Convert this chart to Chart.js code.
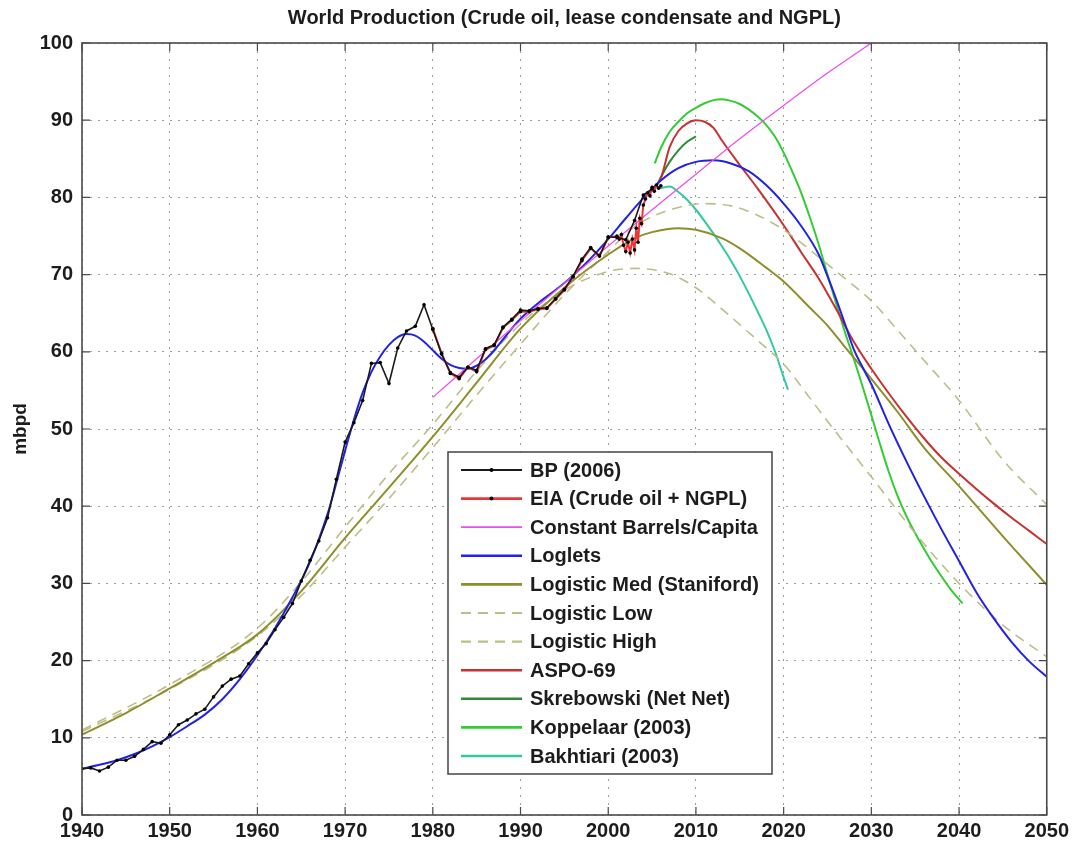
<!DOCTYPE html>
<html>
<head>
<meta charset="utf-8">
<script src="https://cdn.jsdelivr.net/npm/chart.js@4.4.1/dist/chart.umd.min.js"></script>
<style>
  html, body { margin: 0; padding: 0; background: #fff; }
  #wrap { width: 1073px; height: 851px; }
</style>
</head>
<body>
<div id="wrap"><canvas id="prodChart"></canvas></div>
<script>
// World production, mbpd

const bpYears = [1940,1941,1942,1943,1944,1945,1946,1947,1948,1949,
  1950,1951,1952,1953,1954,1955,1956,1957,1958,1959,
  1960,1961,1962,1963,1964,1965,1966,1967,1968,1969,
  1970,1971,1972,1973,1974,1975,1976,1977,1978,1979,
  1980,1981,1982,1983,1984,1985,1986,1987,1988,1989,
  1990,1991,1992,1993,1994,1995,1996,1997,1998,1999,
  2000,2001,2002,2003,2004,2005];
const bpValues = [6.0,6.1,5.7,6.2,7.1,7.1,7.6,8.5,9.5,9.3,
  10.4,11.7,12.3,13.1,13.7,15.3,16.7,17.6,18.0,19.6,
  21.0,22.2,24.0,25.6,27.4,30.3,33.0,35.5,38.5,43.5,
  48.3,50.8,53.7,58.5,58.6,55.9,60.5,62.7,63.3,66.1,
  62.9,59.7,57.3,56.7,58.0,57.6,60.4,60.9,63.2,64.2,
  65.4,65.3,65.6,65.7,66.9,68.1,69.8,72.0,73.5,72.4,
  74.9,74.8,74.5,77.0,80.3,81.1];

const eiaYears = [1980,1981,1982,1983,1984,1985,1986,1987,1988,1989,
  1990,1991,1992,1993,1994,1995,1996,1997,1998,1999,2000,
  2001,2001.25,2001.5,2001.75,2002,2002.25,2002.5,2002.75,
  2003,2003.2,2003.4,2003.6,2003.8,2004,2004.25,2004.5,2004.75,
  2005,2005.25,2005.5,2005.75,2006];
const eiaValues = [63.0,59.8,57.2,56.5,58.0,57.4,60.3,60.8,63.1,64.1,
  65.2,65.2,65.5,65.6,66.8,68.0,69.7,71.8,73.4,72.4,74.8,
  75.0,74.6,75.2,73.8,73.0,74.2,72.8,74.6,
  73.2,76.0,74.2,77.3,76.6,79.0,79.8,80.6,80.2,
  81.3,80.8,81.6,81.2,81.5];

const capitaYears = [1980,1985,1990,1995,2000,2005,2010,2015,2020,2025,2030];
const capitaValues = [54.1,59.1,64.0,68.9,73.7,78.4,83.0,87.6,91.9,96.1,100.0];

const logletYears = [1940,1942,1944,1946,1948,1950,1952,1954,1956,1958,
  1960,1962,1964,1966,1968,1969,1970,1971,1972,1973,1974,1975,1976,1977,1978,1979,
  1980,1981,1982,1983,1984,1985,1986,1987,1988,1989,1990,1992,1994,1996,1998,
  2000,2002,2004,2006,2008,2010,2012,2014,2016,2018,2020,2022,2024,2025,2026,2027,2028,2029,
  2030,2032,2034,2036,2038,2040,2042,2044,2046,2048,2050];
const logletValues = [6.0,6.5,7.1,7.9,8.9,10.1,11.5,13.0,15.0,17.6,
  20.7,24.2,28.2,32.8,39.0,43.0,47.2,51.2,54.7,57.4,59.4,60.9,61.9,62.3,62.1,61.3,
  60.2,59.1,58.3,57.9,57.8,58.2,59.0,60.2,61.6,63.0,64.3,66.3,68.0,69.9,72.1,
  74.6,77.3,79.9,82.2,83.8,84.6,84.8,84.4,83.4,81.6,79.2,76.3,72.6,69.8,66.8,63.6,60.3,58.0,
  55.8,50.6,45.8,41.3,37.0,32.9,28.8,25.4,22.4,19.9,17.9];

const medYears = [1940,1945,1950,1955,1960,1965,1970,1975,1980,1985,1990,1995,
  2000,2003,2005,2008,2010,2013,2015,2018,2020,2023,2025,2027,2030,2033,2036,2040,2045,2050];
const medValues = [10.4,13.2,16.4,19.7,23.4,29.0,35.9,42.4,49.0,56.0,63.0,68.3,
  72.6,74.7,75.5,76.0,75.8,74.7,73.4,70.9,69.1,65.7,63.4,60.6,56.5,52.2,47.6,42.6,36.1,29.8];

const lowYears = [1940,1950,1960,1965,1970,1975,1980,1985,1990,1995,2000,2003,2007,
  2010,2013,2017,2020,2023,2025,2030,2035,2040,2045,2050];
const lowValues = [11.0,16.9,24.2,30.2,37.3,44.2,50.6,57.5,63.6,68.0,70.4,70.8,70.1,
  68.3,65.5,61.5,58.4,54.0,51.0,43.8,36.5,30.0,24.6,20.5];

const highYears = [1940,1950,1960,1965,1970,1975,1980,1985,1990,1995,2000,2003,2005,
  2008,2011,2014,2017,2020,2023,2026,2030,2033,2036,2040,2045,2050];
const highValues = [10.8,16.3,23.2,28.4,34.7,41.0,47.6,54.4,61.0,67.4,73.0,76.2,77.5,
  78.7,79.2,78.9,77.7,75.8,73.2,70.4,66.6,62.8,58.9,53.7,46.0,40.2];

const aspoYears = [2005,2006,2007,2008,2009,2010,2011,2012,2013,2015,2017,2020,2022,2024,
  2026,2028,2030,2032,2034,2036,2038,2040,2042,2044,2046,2048,2050];
const aspoValues = [81.0,82.5,86.5,88.6,89.6,90.0,89.8,89.0,87.3,84.2,81.2,76.4,72.9,69.5,
  65.5,61.3,57.8,54.6,51.6,48.8,46.3,44.2,42.2,40.3,38.5,36.8,35.1];

const skrebYears = [2005.5,2006,2007,2008,2009,2010];
const skrebValues = [81.4,82.6,84.6,86.1,87.2,87.9];

const koppYears = [2005.3,2006,2007,2008,2009,2010,2011,2012,2013,2014,2015,2016,2017,2018,
  2019,2020,2021,2022,2023,2024,2025,2026,2027,2028,2029,2030,2031,2032,2033,2034,
  2035,2036,2037,2038,2039,2040.4];
const koppValues = [84.4,86.4,88.5,89.8,90.9,91.6,92.2,92.6,92.7,92.5,92.1,91.4,90.5,89.4,
  87.9,85.8,83.3,80.6,77.4,73.9,70.0,66.2,62.5,59.1,55.5,51.8,48.0,44.4,41.3,38.7,
  36.5,34.5,32.6,30.9,29.3,27.4];

const bakhYears = [2005.9,2007,2008,2009,2010,2011,2012,2013,2014,2015,2016,2017,2018,2019,2020,2020.5];
const bakhValues = [81.2,81.4,80.7,79.7,78.4,76.9,75.3,73.6,71.8,69.8,67.6,65.3,62.9,60.1,56.7,55.1];

const xTicks = [1940,1950,1960,1970,1980,1990,2000,2010,2020,2030,2040,2050];
const yTicks = [0,10,20,30,40,50,60,70,80,90,100];

const FONT = "'Liberation Sans', Arial, Helvetica, sans-serif";

function pts(xs, ys) {
    return xs.map((x, i) => ({ x: x, y: ys[i] }));
}

function curve(label, xs, ys, color, width, dash) {
    return {
        label: label,
        data: pts(xs, ys),
        borderColor: color,
        backgroundColor: color,
        borderWidth: width,
        borderDash: dash || [],
        pointRadius: 0,
        cubicInterpolationMode: 'monotone',
        fill: false
    };
}

const datasets = [
    {
        label: 'BP (2006)',
        data: pts(bpYears, bpValues),
        borderColor: '#1a1a1a',
        backgroundColor: '#000',
        borderWidth: 1.6,
        pointRadius: 1.8,
        pointBorderWidth: 0,
        pointBackgroundColor: '#000',
        tension: 0
    },
    {
        label: 'EIA (Crude oil + NGPL)',
        data: pts(eiaYears, eiaValues),
        borderColor: '#ee3434',
        backgroundColor: '#000',
        borderWidth: 2,
        pointRadius: 1.8,
        pointBorderWidth: 0,
        pointBackgroundColor: '#000',
        tension: 0
    },
    curve('Constant Barrels/Capita', capitaYears, capitaValues, '#ee4cee', 1.2),
    curve('Loglets', logletYears, logletValues, '#2222e6', 2),
    curve('Logistic Med (Staniford)', medYears, medValues, '#8e8e2a', 2),
    curve('Logistic Low', lowYears, lowValues, '#bdbd8a', 1.6, [10, 7]),
    curve('Logistic High', highYears, highValues, '#bdbd8a', 1.6, [10, 7]),
    curve('ASPO-69', aspoYears, aspoValues, '#c93030', 2),
    curve('Skrebowski (Net Net)', skrebYears, skrebValues, '#2f8a38', 2),
    curve('Koppelaar (2003)', koppYears, koppValues, '#33cc33', 2),
    curve('Bakhtiari (2003)', bakhYears, bakhValues, '#33c8a4', 2)
];

// box frame with inward ticks on all four sides
const frameTicks = {
    id: 'frameTicks',
    afterDatasetsDraw(chart) {
        const { ctx, chartArea: a, scales: { x, y } } = chart;
        const len = 8;
        ctx.save();
        ctx.strokeStyle = '#4a4a4a';
        ctx.lineWidth = 1.2;
        ctx.beginPath();
        x.ticks.forEach(t => {
            const px = x.getPixelForValue(t.value);
            ctx.moveTo(px, a.bottom); ctx.lineTo(px, a.bottom - len);
            ctx.moveTo(px, a.top); ctx.lineTo(px, a.top + len);
        });
        y.ticks.forEach(t => {
            const py = y.getPixelForValue(t.value);
            ctx.moveTo(a.left, py); ctx.lineTo(a.left + len, py);
            ctx.moveTo(a.right, py); ctx.lineTo(a.right - len, py);
        });
        ctx.stroke();
        ctx.lineWidth = 1.6;
        ctx.strokeRect(a.left, a.top, a.right - a.left, a.bottom - a.top);
        ctx.restore();
    }
};

// legend box drawn inside the plot, like the original
const boxLegend = {
    id: 'boxLegend',
    afterDraw(chart) {
        const { ctx } = chart;
        const box = { left: 448, top: 452, right: 772, bottom: 774 };
        const rowStart = 470, rowGap = 28.6;
        ctx.save();
        ctx.fillStyle = '#fff';
        ctx.fillRect(box.left, box.top, box.right - box.left, box.bottom - box.top);
        ctx.strokeStyle = '#444';
        ctx.lineWidth = 1.5;
        ctx.strokeRect(box.left, box.top, box.right - box.left, box.bottom - box.top);
        ctx.font = 'bold 20px ' + FONT;
        ctx.textBaseline = 'middle';
        ctx.textAlign = 'left';
        chart.data.datasets.forEach((ds, i) => {
            const yy = rowStart + i * rowGap;
            ctx.strokeStyle = ds.borderColor;
            ctx.lineWidth = ds.borderWidth + 0.6;
            ctx.setLineDash(ds.borderDash || []);
            ctx.beginPath();
            ctx.moveTo(461, yy);
            ctx.lineTo(522, yy);
            ctx.stroke();
            ctx.setLineDash([]);
            if (ds.pointRadius > 0) {
                ctx.fillStyle = '#000';
                ctx.beginPath();
                ctx.arc(491.5, yy, 2, 0, Math.PI * 2);
                ctx.fill();
            }
            ctx.fillStyle = '#1c1c1c';
            ctx.fillText(ds.label, 530, yy + 1);
        });
        ctx.restore();
    }
};

new Chart(document.getElementById('prodChart').getContext('2d'), {
    type: 'line',
    data: { datasets: datasets },
    plugins: [frameTicks, boxLegend],
    options: {
        responsive: true,
        maintainAspectRatio: false,
        animation: false,
        layout: { padding: { left: 0, right: 26, top: 0, bottom: 0 } },
        plugins: {
            legend: { display: false },
            tooltip: { enabled: false },
            title: {
                display: true,
                fullSize: false,
                text: 'World Production (Crude oil, lease condensate and NGPL)',
                color: '#1c1c1c',
                font: { family: FONT, size: 20, weight: 'bold' },
                padding: { top: 6, bottom: 13 }
            }
        },
        scales: {
            x: {
                type: 'linear',
                min: 1940,
                max: 2050,
                afterFit(scale) { scale.height = 36; },
                afterBuildTicks(scale) { scale.ticks = xTicks.map(v => ({ value: v })); },
                grid: { color: '#9c9c9c', lineWidth: 1, drawTicks: false },
                border: { display: false, dash: [2, 6] },
                ticks: {
                    padding: 4,
                    color: '#1c1c1c',
                    font: { family: FONT, size: 20, weight: 'bold' },
                    callback: v => String(v),
                    maxRotation: 0
                }
            },
            y: {
                min: 0,
                max: 100,
                afterFit(scale) { scale.width = 82; },
                afterBuildTicks(scale) { scale.ticks = yTicks.map(v => ({ value: v })); },
                grid: { color: '#9c9c9c', lineWidth: 1, drawTicks: false },
                border: { display: false, dash: [2, 6] },
                title: {
                    display: true,
                    text: 'mbpd',
                    color: '#1c1c1c',
                    font: { family: FONT, size: 19, weight: 'bold' },
                    padding: { top: 9, bottom: 0 }
                },
                ticks: {
                    padding: 9,
                    color: '#1c1c1c',
                    font: { family: FONT, size: 20, weight: 'bold' },
                    callback: v => String(v)
                }
            }
        }
    }
});
</script>
</body>
</html>
